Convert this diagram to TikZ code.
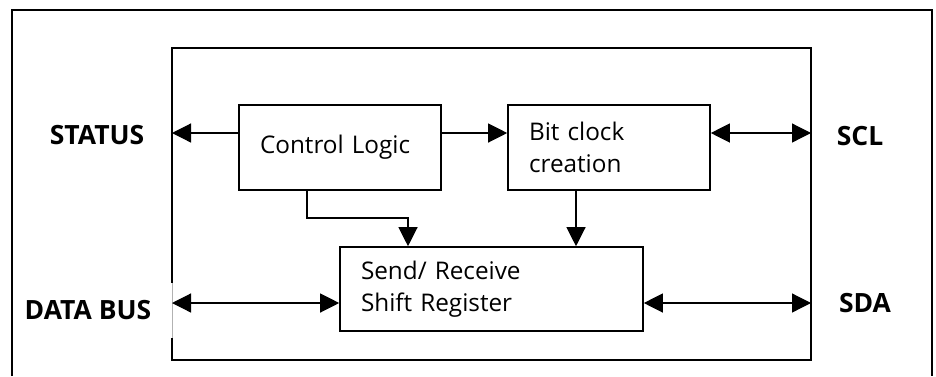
\documentclass[tikz,border=0pt]{standalone}
\usepackage{fontspec}
\setmainfont{Open Sans}
\usetikzlibrary{arrows.meta}
\begin{document}
\begin{tikzpicture}[x=1pt,y=-1pt,
  blk/.style={draw,line width=1.6pt,minimum height=85pt,inner xsep=21pt,inner ysep=0pt,
    font=\fontsize{24.3}{32.5}\selectfont,align=left},
  conn/.style={line width=1.2pt,-{Triangle[length=19pt,width=19pt]}},
  bconn/.style={line width=1.2pt,{Triangle[length=19pt,width=19pt]}-{Triangle[length=19pt,width=19pt]}},
  lbl/.style={font=\fontsize{26.5}{30}\selectfont\bfseries,inner sep=0pt}]
\useasboundingbox (0,0) rectangle (936,376);
% outer frame (open at bottom)
\draw[line width=1.6pt] (12,376) -- (12,10) -- (932,10) -- (932,376);
% inner frame
\draw[line width=1.6pt] (172,283) -- (172,48) -- (811,48) -- (811,360) -- (172,360) -- (172,338);
\draw[line width=0.5pt,gray!60] (172,283) -- (172,338);
% blocks
\node[blk,text width=160pt] (cl) at (340,147.5) {Control Logic};
\node[blk,text width=160pt] (bc) at (609,147.5) {Bit clock\\creation};
\node[blk,text width=261pt,minimum height=84pt] (sr) at (491.5,289) {Send/ Receive\\Shift Register};
% port points on the inner frame
\coordinate (statusP) at (172,133);
\coordinate (sclP) at (811,133);
\coordinate (dbP) at (172,303);
\coordinate (sdaP) at (811,303);
\coordinate (bend1) at (307,218);
\coordinate (bend2) at (408,218);
\coordinate (clkdown) at (576,218);
% labels
\node[lbl] (status) at (97,135) {STATUS};
\node[lbl] (scl) at (860,136) {SCL};
\node[lbl] (databus) at (88,310) {DATA BUS};
\node[lbl] (sda) at (865,303) {SDA};
% connectors
\draw[conn] (cl.west |- statusP) -- (statusP);
\draw[conn] (cl.east |- statusP) -- (bc.west |- statusP);
\draw[bconn] (bc.east |- sclP) -- (sclP);
\draw[conn] (cl.south -| bend1) -- (bend1) -- (bend2) -- (sr.north -| bend2);
\draw[conn] (bc.south -| clkdown) -- (sr.north -| clkdown);
\draw[bconn] (dbP) -- (sr.west |- dbP);
\draw[bconn] (sr.east |- sdaP) -- (sdaP);
\end{tikzpicture}
\end{document}
